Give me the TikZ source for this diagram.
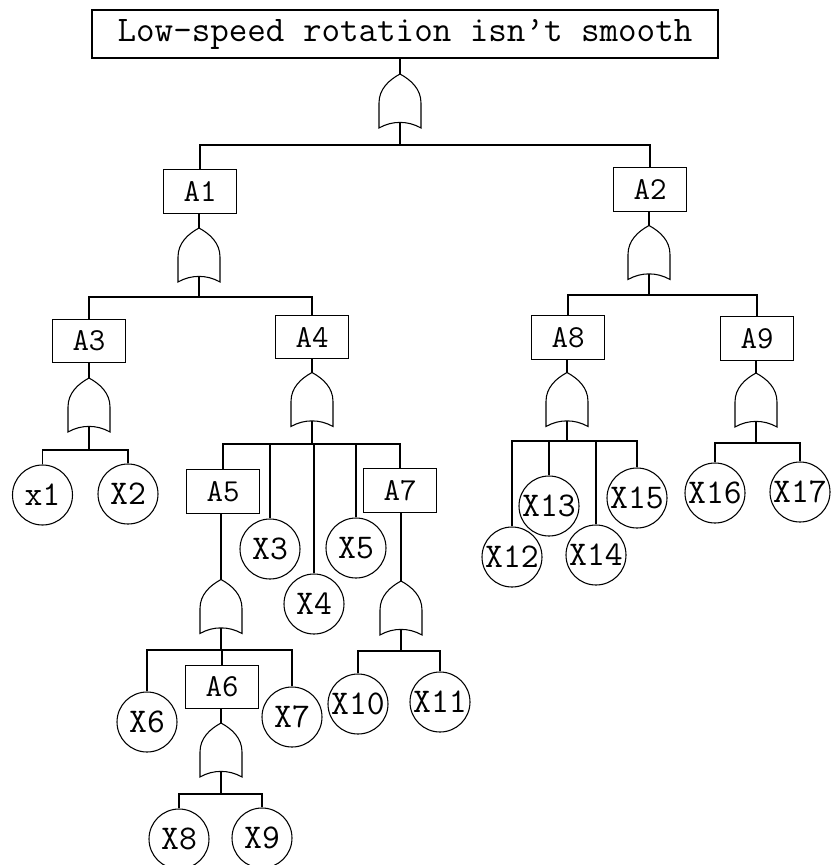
\documentclass[tikz,border=0pt]{standalone}
\usepackage{fontspec}
\begin{document}
\begin{tikzpicture}[x=0.75pt,y=-0.75pt,
  conn/.style={line width=0.8pt},
  evt/.style={draw, rectangle, line width=0.8pt, minimum width=54.75pt, minimum height=32.5pt, inner sep=0pt, font=\ttfamily\fontsize{24}{24}\selectfont},
  basic/.style={draw, circle, line width=0.8pt, minimum size=45pt, inner sep=0pt, font=\ttfamily\fontsize{26}{26}\selectfont},
  orgate/.style={rectangle, minimum width=31.5pt, minimum height=40.5pt, inner sep=0pt, outer sep=0pt}]
\useasboundingbox (0,0) rectangle (832,865);

% top event
\node[draw, line width=0.8pt, minimum width=469.5pt, minimum height=36pt, inner sep=0pt,
  font=\ttfamily\fontsize{27}{27}\selectfont] (T) at (405,34) {Low-speed rotation isn’t smooth};

% intermediate events
\node[evt] (A1) at (200,191.5) {A1};
\node[evt] (A2) at (650,189.5) {A2};
\node[evt] (A3) at (89,341) {A3};
\node[evt] (A4) at (312,337) {A4};
\node[evt] (A5) at (223,491.5) {A5};
\node[evt] (A6) at (222,687) {A6};
\node[evt] (A7) at (400,490.5) {A7};
\node[evt] (A8) at (568,337.5) {A8};
\node[evt] (A9) at (757,338.5) {A9};

% basic events
\node[basic] (x1) at (42.5,495) {x1};
\node[basic] (X2) at (128,494) {X2};
\node[basic] (X3) at (270,549) {X3};
\node[basic] (X4) at (314,604) {X4};
\node[basic] (X5) at (356,548) {X5};
\node[basic] (X6) at (147,722) {X6};
\node[basic] (X7) at (292,717) {X7};
\node[basic] (X8) at (179,839) {X8};
\node[basic] (X9) at (262,838) {X9};
\node[basic] (X10) at (358,704) {X10};
\node[basic] (X11) at (440,702) {X11};
\node[basic] (X12) at (512,557) {X12};
\node[basic] (X13) at (549,506) {X13};
\node[basic] (X14) at (596,555) {X14};
\node[basic] (X15) at (637,498) {X15};
\node[basic] (X16) at (715,493) {X16};
\node[basic] (X17) at (800,492) {X17};

% OR gates
\node[orgate] (g0) at (400,101) {};
\node[orgate] (g1) at (199,255) {};
\node[orgate] (g2) at (649,252.5) {};
\node[orgate] (g3) at (89,405) {};
\node[orgate] (g4) at (312,399.5) {};
\node[orgate] (g5) at (221,606.5) {};
\node[orgate] (g6) at (221,750) {};
\node[orgate] (g7) at (401,608) {};
\node[orgate] (g8) at (567,399.5) {};
\node[orgate] (g9) at (756,400) {};

\foreach \g in {g0,g1,g2,g3,g4,g5,g6,g7,g8,g9}{
  \draw[conn, shift={(\g.center)}] (-21,27) -- (-21,2)
     .. controls (-21,-12) and (-11,-21) .. (0,-27)
     .. controls (11,-21) and (21,-12) .. (21,2) -- (21,27)
     .. controls (8,19.5) and (-8,19.5) .. cycle;
}

% bar junctions
\coordinate (b0) at (400,145);
\coordinate (b1) at (199,297);
\coordinate (b2) at (649,295);
\coordinate (b3) at (89,450);
\coordinate (b4) at (312,444);
\coordinate (b5) at (221,650);
\coordinate (b6) at (221,794);
\coordinate (b7) at (401,651);
\coordinate (b8) at (567,441);
\coordinate (b9) at (756,443);

% event -> gate
\draw[conn] (g0.north |- T.south) -- (g0.north);
\draw[conn] (g1.north |- A1.south) -- (g1.north);
\draw[conn] (g2.north |- A2.south) -- (g2.north);
\draw[conn] (g3.north |- A3.south) -- (g3.north);
\draw[conn] (g4.north |- A4.south) -- (g4.north);
\draw[conn] (g5.north |- A5.south) -- (g5.north);
\draw[conn] (g6.north |- A6.south) -- (g6.north);
\draw[conn] (g7.north |- A7.south) -- (g7.north);
\draw[conn] (g8.north |- A8.south) -- (g8.north);
\draw[conn] (g9.north |- A9.south) -- (g9.north);

% gate -> bar
\foreach \g/\b in {g0/b0,g1/b1,g2/b2,g3/b3,g4/b4,g5/b5,g6/b6,g7/b7,g8/b8,g9/b9}{
  \draw[conn] ([yshift=4.2pt]\g.south) -- (\b);
}

% bar -> children
\draw[conn] (b0) -| (A1.north);
\draw[conn] (b0) -| (A2.north);
\draw[conn] (b1) -| (A3.north);
\draw[conn] (b1) -| (A4.north);
\draw[conn] (b2) -| (A8.north);
\draw[conn] (b2) -| (A9.north);
\draw[conn] (b3) -| (x1.north);
\draw[conn] (b3) -| (X2.north);
\draw[conn] (b4) -| (A5.north);
\draw[conn] (b4) -| (X3.north);
\draw[conn] (b4) -| (X4.north);
\draw[conn] (b4) -| (X5.north);
\draw[conn] (b4) -| (A7.north);
\draw[conn] (b5) -| (X6.north);
\draw[conn] (b5) -| (A6.north);
\draw[conn] (b5) -| (X7.north);
\draw[conn] (b6) -| (X8.north);
\draw[conn] (b6) -| (X9.north);
\draw[conn] (b7) -| (X10.north);
\draw[conn] (b7) -| (X11.north);
\draw[conn] (b8) -| (X12.north);
\draw[conn] (b8) -| (X13.north);
\draw[conn] (b8) -| (X14.north);
\draw[conn] (b8) -| (X15.north);
\draw[conn] (b9) -| (X16.north);
\draw[conn] (b9) -| (X17.north);
\end{tikzpicture}
\end{document}
